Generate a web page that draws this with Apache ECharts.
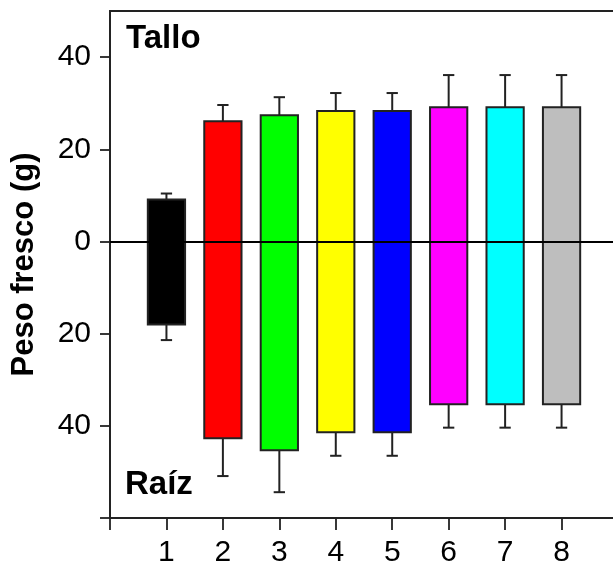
<!DOCTYPE html>
<html><head><meta charset="utf-8">
<script src="https://cdn.jsdelivr.net/npm/echarts@6/dist/echarts.min.js"></script>
<style>html,body{margin:0;padding:0;background:#fff}#c{width:613px;height:567px}</style>
</head><body><div id="c"></div>
<script>
const categories = [1, 2, 3, 4, 5, 6, 7, 8];
const colors = ['#000000', '#FF0000', '#00FF00', '#FFFF00', '#0000FF', '#FF00FF', '#00FFFF', '#BEBEBE'];
const tallo = [9.1, 26.1, 27.4, 28.3, 28.3, 29.1, 29.1, 29.1];
const talloErr = [1.3, 3.5, 3.9, 3.9, 3.9, 7.0, 7.0, 7.0];
const raiz = [18.0, 42.7, 45.3, 41.4, 41.4, 35.3, 35.3, 35.3];
const raizErr = [3.4, 8.2, 9.1, 5.1, 5.1, 5.1, 5.1, 5.1];
const yTickValues = [-60, -40, -20, 0, 20, 40];
const yLabelValues = [-40, -20, 0, 20, 40];
const panelTop = 'Tallo';
const panelBottom = 'Raíz';
const yTitle = 'Peso fresco (g)';

const FONT = '"Liberation Sans", Arial, Helvetica, sans-serif';
const data = categories.map((c, i) => [c, tallo[i], -raiz[i], tallo[i] + talloErr[i], -(raiz[i] + raizErr[i]), i]);

const chart = echarts.init(document.getElementById('c'), null, {renderer: 'canvas'});
chart.setOption({
  animation: false,
  backgroundColor: '#fff',
  grid: {left: 110, top: 11, width: 508, height: 507, outerBoundsMode: 'none', containLabel: false,
    show: true, borderColor: '#222', borderWidth: 1.8, backgroundColor: 'transparent'},
  xAxis: {
    type: 'value', min: 0, max: 9, interval: 1,
    splitLine: {show: false},
    axisLine: {show: true, onZero: false, lineStyle: {color: '#222', width: 1.8}},
    axisTick: {show: true, inside: false, length: 12, lineStyle: {color: '#222', width: 1.8}},
    axisLabel: {
      show: true, margin: 20, fontSize: 30, color: '#000', fontFamily: FONT,
      formatter: v => (categories.indexOf(v) >= 0 ? String(v) : '')
    }
  },
  yAxis: {
    type: 'value', min: -60, max: 50,
    name: yTitle, nameLocation: 'middle', nameGap: 70,
    nameTextStyle: {fontSize: 31, fontWeight: 'bold', color: '#000', fontFamily: FONT},
    splitLine: {show: false},
    axisLine: {show: true, onZero: false, lineStyle: {color: '#222', width: 1.8}},
    axisTick: {show: true, inside: false, length: 10, customValues: yTickValues, lineStyle: {color: '#222', width: 1.8}},
    axisLabel: {
      show: true, margin: 19, fontSize: 30, color: '#000', fontFamily: FONT,
      customValues: yLabelValues,
      formatter: v => String(Math.abs(v))
    }
  },
  graphic: [
    {type: 'text', left: 126, top: 22, style: {text: panelTop, font: 'bold 33px ' + FONT, fill: '#000'}},
    {type: 'text', left: 125, top: 468, style: {text: panelBottom, font: 'bold 33px ' + FONT, fill: '#000'}}
  ],
  series: [{
    type: 'custom',
    data: data,
    encode: {x: 0, y: [1, 2, 3, 4]},
    renderItem: function (params, api) {
      const x = api.value(0);
      const idx = api.value(5);
      const p1 = api.coord([x - 0.33, api.value(1)]);
      const p2 = api.coord([x + 0.33, api.value(2)]);
      const c = api.coord([x, 0]);
      const t = api.coord([x, api.value(3)]);
      const b = api.coord([x, api.value(4)]);
      const hw = api.size([0.1, 0])[0];
      const ls = {stroke: '#222', lineWidth: 2};
      return {
        type: 'group',
        children: [
          {type: 'line', shape: {x1: c[0], y1: p1[1], x2: t[0], y2: t[1]}, style: ls},
          {type: 'line', shape: {x1: t[0] - hw, y1: t[1], x2: t[0] + hw, y2: t[1]}, style: ls},
          {type: 'line', shape: {x1: c[0], y1: p2[1], x2: b[0], y2: b[1]}, style: ls},
          {type: 'line', shape: {x1: b[0] - hw, y1: b[1], x2: b[0] + hw, y2: b[1]}, style: ls},
          {type: 'rect', shape: {x: p1[0], y: p1[1], width: p2[0] - p1[0], height: p2[1] - p1[1]},
            style: {fill: colors[idx], stroke: '#222', lineWidth: 2}}
        ]
      };
    },
    markLine: {
      silent: true, symbol: 'none', label: {show: false},
      lineStyle: {color: '#000', width: 1.8, type: 'solid'},
      data: [{yAxis: 0}]
    }
  }]
});
</script>
</body></html>
